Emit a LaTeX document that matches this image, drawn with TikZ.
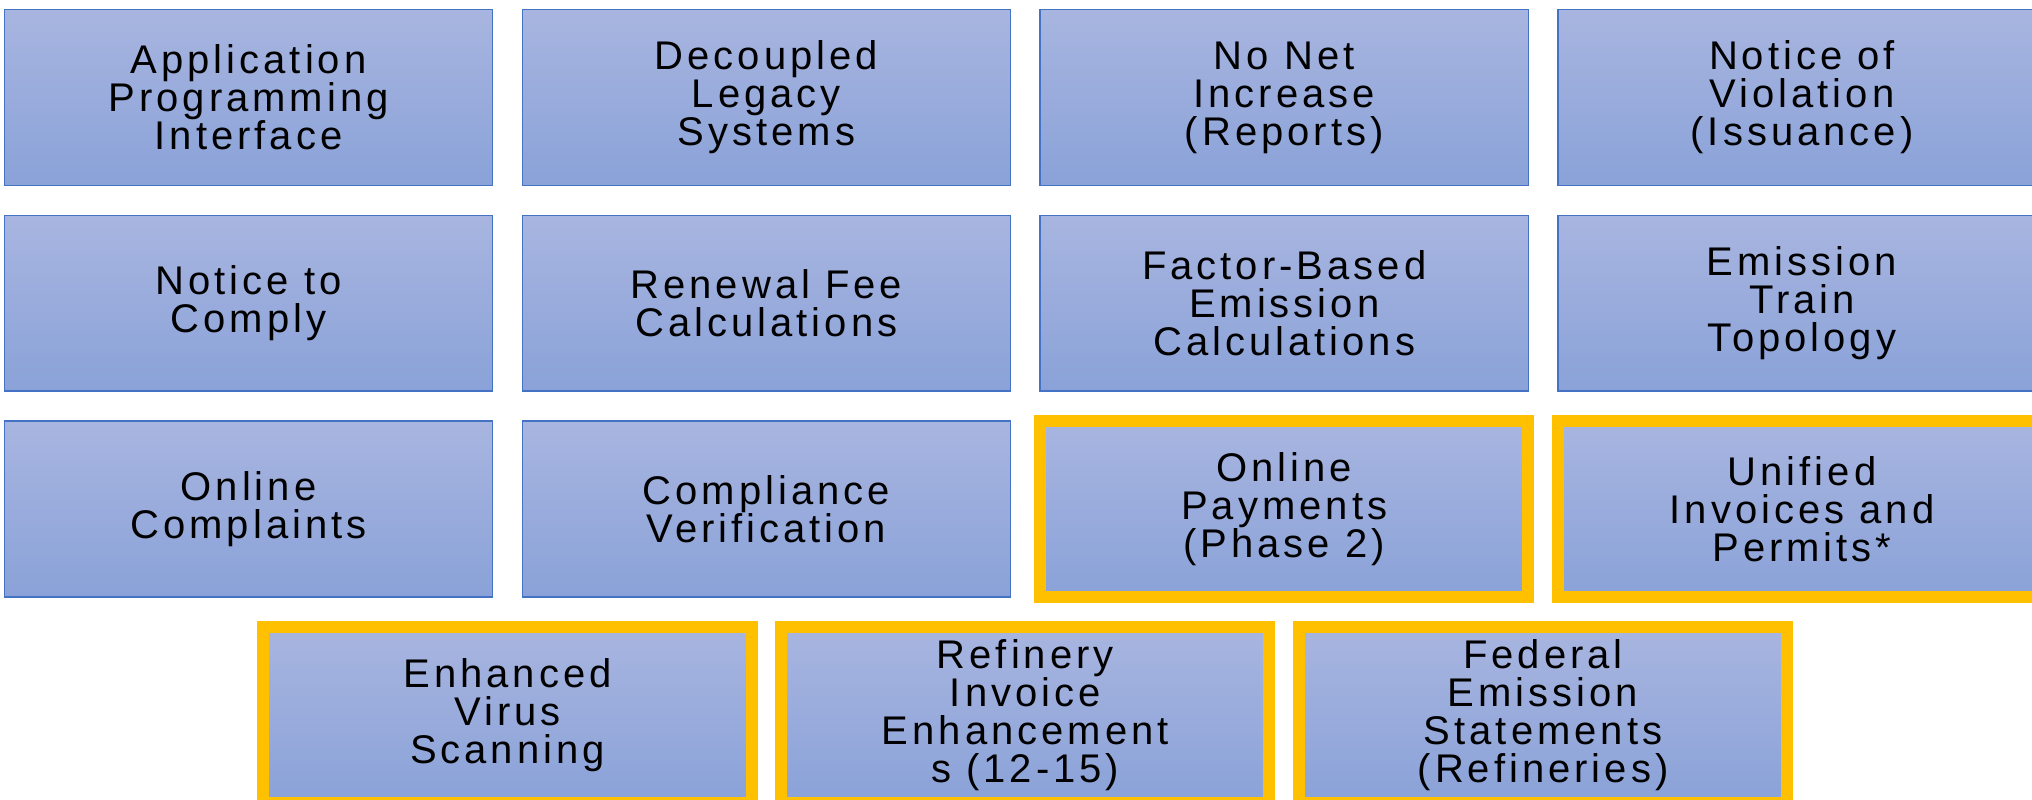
\documentclass[tikz,border=0pt]{standalone}
\usepackage{fontspec}
\setmainfont{Liberation Sans}[LetterSpace=10]
\definecolor{boxtop}{HTML}{A8B5E0}
\definecolor{boxbot}{HTML}{8AA2D8}
\definecolor{boxline}{HTML}{4472C4}
\definecolor{hl}{HTML}{FFC000}
\tikzset{
  item/.style={rectangle, anchor=north west, minimum width=488.2pt, minimum height=175.8pt,
    inner sep=0pt, outer sep=0pt, top color=boxtop, bottom color=boxbot, draw=boxline,
    line width=1.3pt, align=center, font=\fontsize{40pt}{38pt}\selectfont, text=black},
  hot/.style={draw=hl, line width=12pt},
}
\begin{document}
\begin{tikzpicture}[x=1pt, y=-1pt]
\useasboundingbox (0,0) rectangle (2032,800);
% row 1
\node[item] (a1) at (4.5,9.5) {Application\\Programming\\Interface};
\node[item] (a2) at (522.3,9.5) {Decoupled\\Legacy\\Systems};
\node[item] (a3) at (1040.1,9.5) {No Net\\Increase\\(Reports)};
\node[item] (a4) at (1557.9,9.5) {Notice of\\Violation\\(Issuance)};
% row 2
\node[item] (b1) at (4.5,215.3) {Notice to\\Comply};
\node[item] (b2) at (522.3,215.3) {Renewal Fee\\Calculations};
\node[item] (b3) at (1040.1,215.3) {Factor-Based\\Emission\\Calculations};
\node[item] (b4) at (1557.9,215.3) {Emission\\Train\\Topology};
% row 3
\node[item] (c1) at (4.5,421.1) {Online\\Complaints};
\node[item] (c2) at (522.3,421.1) {Compliance\\Verification};
\node[item, hot] (c3) at (1040.1,421.1) {Online\\Payments\\(Phase 2)};
\node[item, hot] (c4) at (1557.9,421.1) {Unified\\Invoices and\\Permits*};
% row 4
\node[item, hot] (d1) at (263.4,626.9) {Enhanced\\Virus\\Scanning};
\node[item, hot] (d2) at (781.2,626.9) {Refinery\\Invoice\\Enhancement\\s (12-15)};
\node[item, hot] (d3) at (1299.0,626.9) {Federal\\Emission\\Statements\\(Refineries)};
\end{tikzpicture}
\end{document}
